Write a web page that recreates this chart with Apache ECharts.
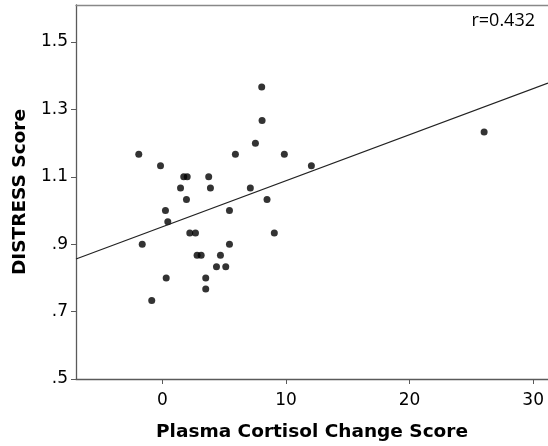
<!DOCTYPE html>
<html>
<head>
<meta charset="utf-8">
<script src="https://cdn.jsdelivr.net/npm/echarts@6/dist/echarts.min.js"></script>
<style>html,body{margin:0;padding:0;background:#fff;}#c{width:548px;height:446px;}</style>
</head>
<body>
<div id="c"></div>
<script>
var xTicks = [0, 10, 20, 30];
var yTicks = [0.5, 0.7, 0.9, 1.1, 1.3, 1.5];
var cortisol = [-1.92, -0.16, 1.72, 2.0, 3.74, 1.46, 3.88, 1.94, 0.24, 0.43, 5.9, 7.52, 8.03, 8.06, 9.86, 12.05, 7.11, 8.46, 5.42, 2.21, 2.67, 9.05, -1.64, 5.42, 2.8, 3.13, 4.69, 4.37, 5.12, 0.3, 3.5, 3.5, -0.87, 26.03];
var distress = [1.167, 1.133, 1.1, 1.1, 1.1, 1.067, 1.067, 1.033, 1.0, 0.967, 1.167, 1.2, 1.367, 1.267, 1.167, 1.133, 1.067, 1.033, 1.0, 0.933, 0.933, 0.933, 0.9, 0.9, 0.867, 0.867, 0.867, 0.833, 0.833, 0.8, 0.8, 0.767, 0.733, 1.233];
var fitX = [-7, 31.2];
var fitY = [0.856, 1.378];
var rLabel = 'r=0.432';

var points = cortisol.map(function (x, i) { return [x, distress[i]]; });
var fit = fitX.map(function (x, i) { return [x, fitY[i]]; });

var axisColor = '#5a5a5a';
var font = 'DejaVu Sans';
var chart = echarts.init(document.getElementById('c'));
chart.setOption({
  animation: false,
  backgroundColor: '#fff',
  grid: { left: 76, top: 5, right: 0, bottom: 67, containLabel: false, outerBoundsMode: 'none' },
  xAxis: [{
    type: 'value', min: -7, max: 31.2,
    splitLine: { show: false },
    axisLine: { onZero: false, lineStyle: { color: axisColor, width: 1.3 } },
    axisTick: { customValues: xTicks, length: 5, lineStyle: { color: axisColor } },
    axisLabel: { customValues: xTicks, margin: 13, color: '#000', fontFamily: font, fontSize: 17 },
    name: 'Plasma Cortisol Change Score', nameLocation: 'middle', nameGap: 44,
    nameTextStyle: { color: '#000', fontFamily: font, fontWeight: 'bold', fontSize: 18.5 }
  }, {
    type: 'value', min: -7, max: 31.2, position: 'top',
    splitLine: { show: false },
    axisLine: { show: true, onZero: false, lineStyle: { color: '#888', width: 1.3 } },
    axisTick: { show: false }, axisLabel: { show: false }
  }],
  yAxis: {
    type: 'value', min: 0.5, max: 1.61,
    splitLine: { show: false },
    axisLine: { show: true, onZero: false, lineStyle: { color: axisColor, width: 1.3 } },
    axisTick: { show: true, customValues: yTicks, length: 5, lineStyle: { color: axisColor } },
    axisLabel: {
      customValues: yTicks, margin: 8, color: '#000', fontFamily: font, fontSize: 17,
      formatter: function (v) { var s = v.toFixed(1); return v < 1 ? s.replace(/^0/, '') : s; }
    },
    name: 'DISTRESS Score', nameLocation: 'middle', nameGap: 44, nameRotate: 90,
    nameTextStyle: { color: '#000', fontFamily: font, fontWeight: 'bold', fontSize: 18.5 }
  },
  series: [{
    type: 'line', data: fit, symbol: 'none', silent: true,
    lineStyle: { color: '#222', width: 1.2 }
  }, {
    type: 'scatter', data: points, symbolSize: 7,
    itemStyle: { color: '#000' }
  }],
  graphic: [{
    type: 'text', right: 13, top: 12,
    style: { text: rLabel, fill: '#000', font: '18px "Open Sans"' }
  }]
});
</script>
</body>
</html>
